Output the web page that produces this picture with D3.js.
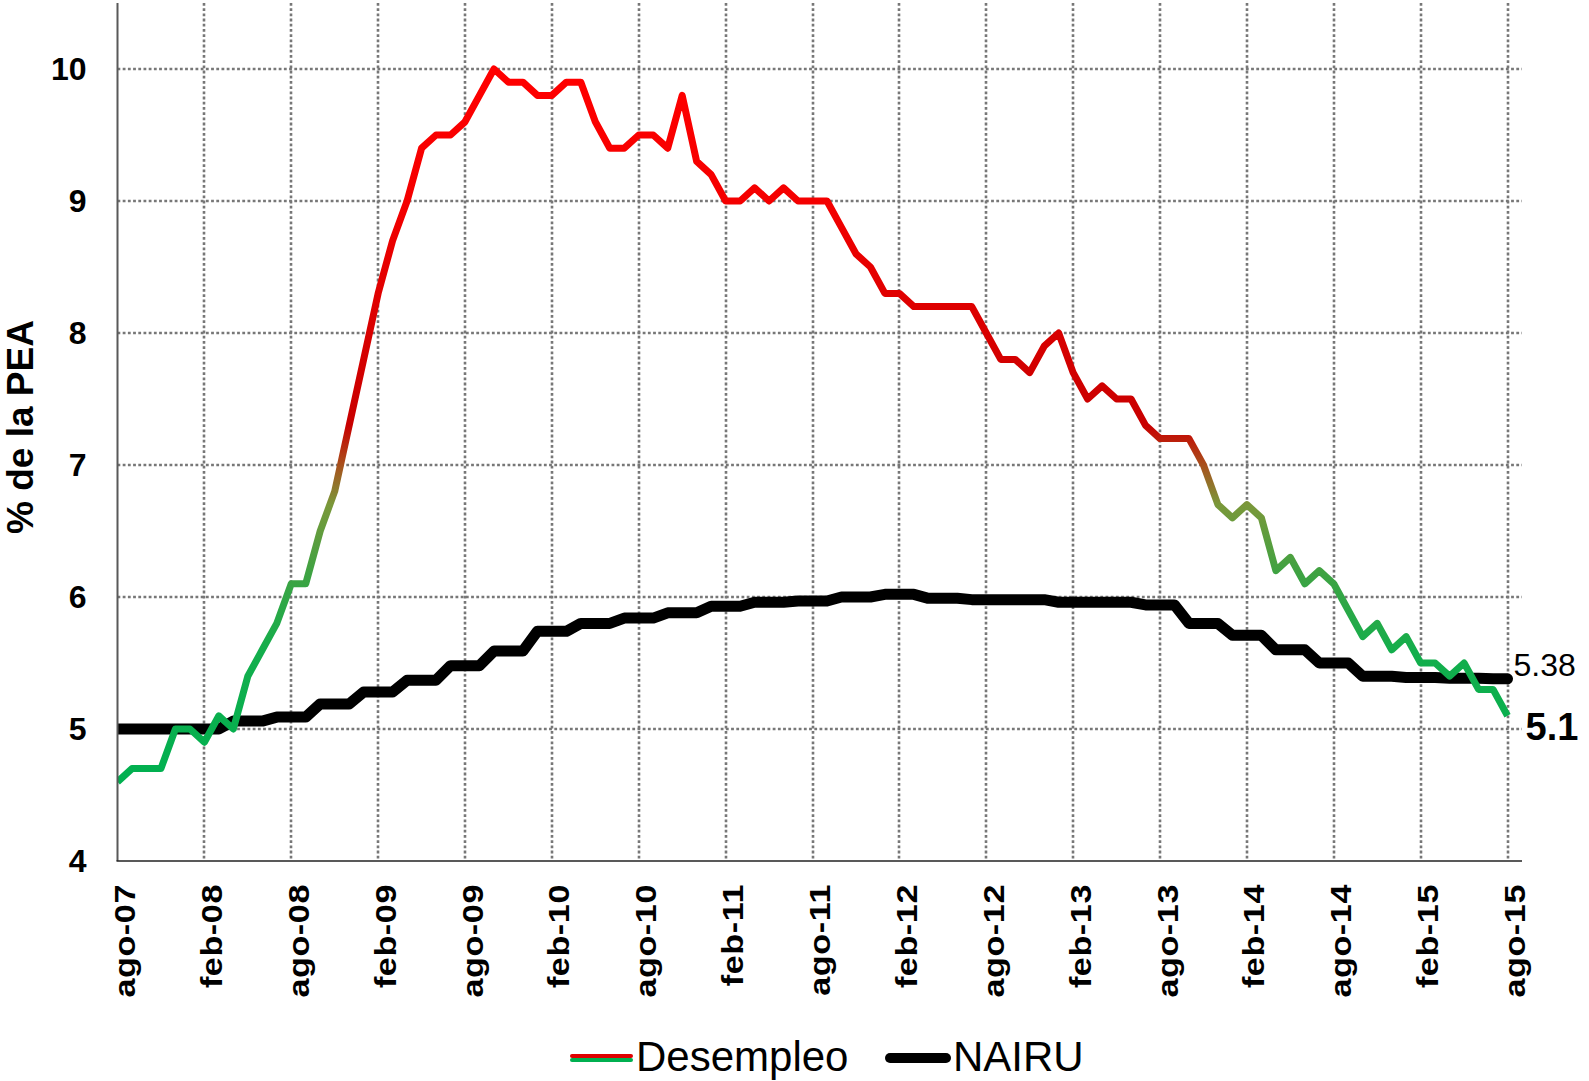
<!DOCTYPE html>
<html>
<head>
<meta charset="utf-8">
<script src="https://cdn.jsdelivr.net/npm/d3@7"></script>
<style>
  body { margin: 0; background: #fff; }
  text { font-family: "Liberation Sans", Arial, sans-serif; }
</style>
</head>
<body>
<svg id="chart" width="1589" height="1081"></svg>
<script>
// tick labels every 6 months, ago-07 .. ago-15
const tickLabels = ["ago-07", "feb-08", "ago-08", "feb-09", "ago-09", "feb-10", "ago-10", "feb-11",
  "ago-11", "feb-12", "ago-12", "feb-13", "ago-13", "feb-14", "ago-14", "feb-15", "ago-15"];

// monthly unemployment rate, ago-07 .. ago-15
const desempleo = [
  4.6, 4.7, 4.7, 4.7, 5.0,
  5.0, 4.9, 5.1, 5.0, 5.4, 5.6, 5.8, 6.1, 6.1, 6.5, 6.8, 7.3,
  7.8, 8.3, 8.7, 9.0, 9.4, 9.5, 9.5, 9.6, 9.8, 10.0, 9.9, 9.9,
  9.8, 9.8, 9.9, 9.9, 9.6, 9.4, 9.4, 9.5, 9.5, 9.4, 9.8, 9.3,
  9.2, 9.0, 9.0, 9.1, 9.0, 9.1, 9.0, 9.0, 9.0, 8.8, 8.6, 8.5,
  8.3, 8.3, 8.2, 8.2, 8.2, 8.2, 8.2, 8.0, 7.8, 7.8, 7.7, 7.9,
  8.0, 7.7, 7.5, 7.6, 7.5, 7.5, 7.3, 7.2, 7.2, 7.2, 7.0, 6.7,
  6.6, 6.7, 6.6, 6.2, 6.3, 6.1, 6.2, 6.1, 5.9, 5.7, 5.8, 5.6,
  5.7, 5.5, 5.5, 5.4, 5.5, 5.3, 5.3, 5.1
];

// monthly NAIRU (quarterly steps), ago-07 .. ago-15
const nairu = [
  5.0, 5.0, 5.0, 5.0, 5.0,
  5.0, 5.0, 5.0, 5.06, 5.06, 5.06, 5.09, 5.09, 5.09, 5.19, 5.19, 5.19,
  5.28, 5.28, 5.28, 5.37, 5.37, 5.37, 5.48, 5.48, 5.48, 5.59, 5.59, 5.59,
  5.74, 5.74, 5.74, 5.80, 5.80, 5.80, 5.84, 5.84, 5.84, 5.88, 5.88, 5.88,
  5.93, 5.93, 5.93, 5.96, 5.96, 5.96, 5.97, 5.97, 5.97, 6.00, 6.00, 6.00,
  6.02, 6.02, 6.02, 5.99, 5.99, 5.99, 5.98, 5.98, 5.98, 5.98, 5.98, 5.98,
  5.96, 5.96, 5.96, 5.96, 5.96, 5.96, 5.94, 5.94, 5.94, 5.80, 5.80, 5.80,
  5.71, 5.71, 5.71, 5.60, 5.60, 5.60, 5.50, 5.50, 5.50, 5.40, 5.40, 5.40,
  5.39, 5.39, 5.39, 5.385, 5.385, 5.385, 5.38, 5.38
];

const yTicks = [4, 5, 6, 7, 8, 9, 10];
const seriesNames = ["Desempleo", "NAIRU"];
const lastNairu = "5.38";
const lastDesempleo = "5.1";

const plot = { left: 117.5, right: 1522, top: 3, bottom: 861 };

const x = d3.scaleLinear().domain([0, 97]).range([plot.left, plot.right]);
const y = d3.scaleLinear().domain([4, 10.5]).range([plot.bottom, plot.top]);
const tickIdx = tickLabels.map((d, i) => i * 6);

const svg = d3.select("#chart");
const defs = svg.append("defs");

// colour of the unemployment line follows its level: green low, red high
const grad = defs.append("linearGradient")
  .attr("id", "gradDes")
  .attr("gradientUnits", "userSpaceOnUse")
  .attr("x1", 0).attr("x2", 0)
  .attr("y1", y(4.6)).attr("y2", y(10));
const gradStops = [
  [4.6, "#00b050"], [5.6, "#14ae4c"], [6.2, "#40a242"], [6.7, "#7a983a"],
  [7.0, "#a8501c"], [7.3, "#c80000"], [8.0, "#d80000"], [9.0, "#f40000"], [10, "#ff0000"]
];
grad.selectAll("stop")
  .data(gradStops)
  .join("stop")
  .attr("offset", d => (d[0] - 4.6) / (10 - 4.6))
  .attr("stop-color", d => d[1]);

defs.append("clipPath").attr("id", "clipPlot")
  .append("rect")
  .attr("x", plot.left).attr("y", plot.top)
  .attr("width", plot.right - plot.left + 20).attr("height", plot.bottom - plot.top);

// grid
const grid = svg.append("g")
  .attr("stroke", "#777")
  .attr("stroke-width", 2.6)
  .attr("stroke-dasharray", "2.8,2.4");

grid.selectAll("line.h")
  .data(yTicks.filter(d => d > 4))
  .join("line")
  .attr("class", "h")
  .attr("x1", plot.left).attr("x2", plot.right)
  .attr("y1", d => Math.round(y(d))).attr("y2", d => Math.round(y(d)));

grid.selectAll("line.v")
  .data(tickIdx.slice(1))
  .join("line")
  .attr("class", "v")
  .attr("x1", d => Math.round(x(d))).attr("x2", d => Math.round(x(d)))
  .attr("y1", plot.top).attr("y2", plot.bottom);

// lines
const line = d3.line().x((d, i) => x(i)).y(d => y(d));

const lines = svg.append("g").attr("clip-path", "url(#clipPlot)");

lines.append("path")
  .datum(nairu)
  .attr("fill", "none")
  .attr("stroke", "#000")
  .attr("stroke-width", 11)
  .attr("stroke-linejoin", "round")
  .attr("stroke-linecap", "round")
  .attr("d", line);

lines.append("path")
  .datum(desempleo)
  .attr("fill", "none")
  .attr("stroke", "url(#gradDes)")
  .attr("stroke-width", 7)
  .attr("stroke-linejoin", "round")
  .attr("d", line);

// axes
const yAxis = svg.append("g")
  .attr("transform", `translate(${plot.left},0)`)
  .call(d3.axisLeft(y).tickValues(yTicks).tickSize(0).tickPadding(31).tickFormat(d3.format("d")));
yAxis.select(".domain").remove();
yAxis.selectAll("text")
  .attr("font-size", 32)
  .attr("font-weight", "bold")
  .attr("fill", "#000")
  .style("font-family", '"Liberation Sans", Arial, sans-serif');

const xAxis = svg.append("g")
  .attr("transform", `translate(0,${plot.bottom})`)
  .call(d3.axisBottom(x).tickValues(tickIdx).tickSize(0).tickFormat((d, i) => tickLabels[i]));
xAxis.select(".domain").remove();
xAxis.selectAll("text")
  .attr("y", null)
  .attr("dy", null)
  .attr("text-anchor", "end")
  .attr("transform", "translate(17,23) rotate(-90) scale(1.14,1)")
  .attr("font-size", 30)
  .attr("font-weight", "bold")
  .attr("letter-spacing", 0.5)
  .attr("fill", "#000")
  .style("font-family", '"Liberation Sans", Arial, sans-serif');

svg.append("line")
  .attr("x1", plot.left).attr("x2", plot.left)
  .attr("y1", plot.top).attr("y2", plot.bottom)
  .attr("stroke", "#595959").attr("stroke-width", 2);

svg.append("line")
  .attr("x1", plot.left - 1).attr("x2", plot.right)
  .attr("y1", plot.bottom).attr("y2", plot.bottom)
  .attr("stroke", "#222").attr("stroke-width", 1.5);

// y axis title
svg.append("text")
  .attr("transform", "translate(33,427) rotate(-90)")
  .attr("text-anchor", "middle")
  .attr("font-size", 37)
  .attr("font-weight", "bold")
  .text("% de la PEA");

// end-of-series labels
svg.append("text")
  .attr("x", x(nairu.length - 1) + 6)
  .attr("y", y(+lastNairu) - 3)
  .attr("font-size", 32)
  .text(lastNairu);

svg.append("text")
  .attr("x", x(desempleo.length - 1) + 18)
  .attr("y", y(+lastDesempleo) + 24)
  .attr("font-size", 38)
  .attr("font-weight", "bold")
  .text(lastDesempleo);

// legend
const legend = svg.append("g");
const legY = 1058;

legend.append("line")
  .attr("x1", 572).attr("x2", 631)
  .attr("y1", legY - 2).attr("y2", legY - 2)
  .attr("stroke", "#e00000").attr("stroke-width", 4).attr("stroke-linecap", "round");
legend.append("line")
  .attr("x1", 572).attr("x2", 631)
  .attr("y1", legY + 2).attr("y2", legY + 2)
  .attr("stroke", "#00b050").attr("stroke-width", 4).attr("stroke-linecap", "round");
legend.append("text")
  .attr("x", 636).attr("y", 1071)
  .attr("font-size", 42)
  .text(seriesNames[0]);

legend.append("line")
  .attr("x1", 890).attr("x2", 946)
  .attr("y1", legY).attr("y2", legY)
  .attr("stroke", "#000").attr("stroke-width", 10).attr("stroke-linecap", "round");
legend.append("text")
  .attr("x", 953).attr("y", 1071)
  .attr("font-size", 42)
  .text(seriesNames[1]);
</script>
</body>
</html>
